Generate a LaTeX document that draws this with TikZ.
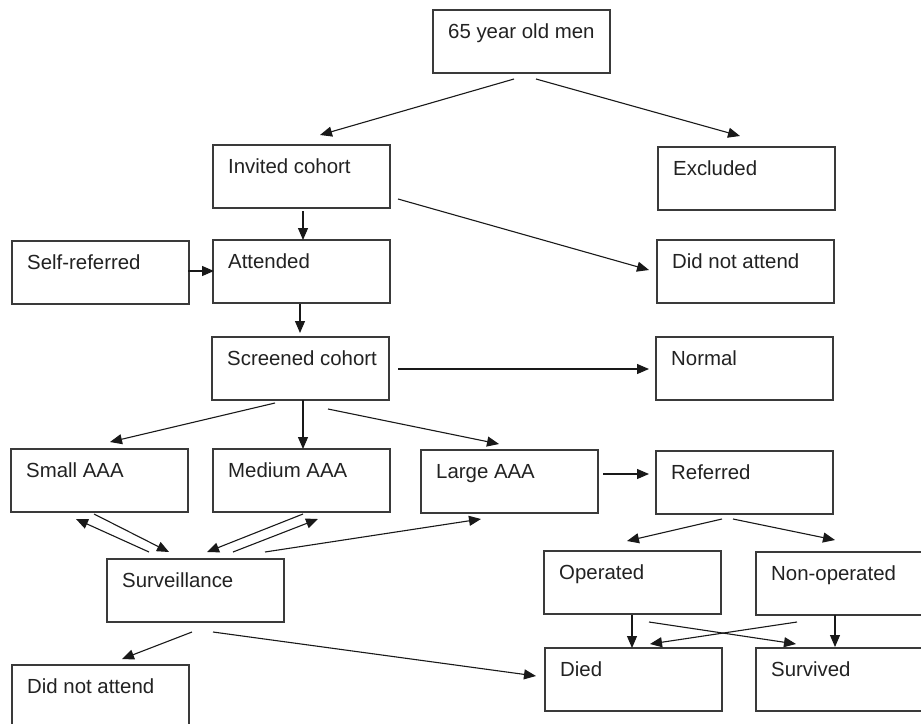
\documentclass[tikz,border=0pt]{standalone}
\usepackage{fontspec}
\setmainfont{Liberation Sans}
\usetikzlibrary{arrows.meta}
\definecolor{boxline}{HTML}{3A3A3A}
\definecolor{txt}{HTML}{222222}
\tikzset{
  bx/.style={draw=boxline, line width=1.2pt, minimum width=177pt, minimum height=63pt, inner sep=0pt, outer sep=0pt, anchor=north west},
  lbl/.style={anchor=base west, inner sep=0pt, text=txt, font=\fontsize{20.4}{24}\selectfont},
  arr/.style={draw=black!90, line width=1.1pt, -{Triangle[length=12pt,width=10pt]}}
}
\newcommand{\mybox}[4]{%
  \node[bx] (#1) at (#2,#3) {};
  \node[lbl] (#1-t) at ([shift={(15,28)}]#1.north west) {#4};}
\begin{document}
\begin{tikzpicture}[x=1pt,y=-1pt]
\useasboundingbox[fill=white] (0,0) rectangle (921,723);
\mybox{men}{433}{10}{65 year old men}
\mybox{inv}{213}{145}{Invited cohort}
\mybox{exc}{658}{147}{Excluded}
\mybox{self}{12}{241}{Self-referred}
\mybox{att}{213}{240}{Attended}
\mybox{dnaA}{657}{240}{Did not attend}
\mybox{scr}{212}{337}{Screened cohort}
\mybox{nor}{656}{337}{Normal}
\mybox{sml}{11}{449}{Small AAA}
\mybox{med}{213}{449}{Medium AAA}
\mybox{lrg}{421}{450}{Large AAA}
\mybox{ref}{656}{451}{Referred}
\mybox{sur}{107}{559}{Surveillance}
\mybox{op}{544}{551}{Operated}
\mybox{nop}{756}{552}{Non-operated}
\mybox{dnaB}{12}{665}{Did not attend}
\mybox{died}{545}{648}{Died}
\mybox{surv}{756}{648}{Survived}
% connectors
\draw[arr] ([shift={(81,69)}]men.north west) -- ([shift={(107,-10)}]inv.north west);
\draw[arr] ([shift={(103,69)}]men.north west) -- ([shift={(82,-11)}]exc.north west);
\draw[arr] ([shift={(90,66)}]inv.north west) -- ([shift={(90,0)}]att.north west);
\draw[arr] ([shift={(185,54)}]inv.north west) -- ([shift={(-8,30)}]dnaA.north west);
\draw[arr] ([shift={(176,30)}]self.north west) -- ([shift={(1,31)}]att.north west);
\draw[arr] ([shift={(87,64)}]att.north west) -- ([shift={(88,-4)}]scr.north west);
\draw[arr] ([shift={(186,32)}]scr.north west) -- ([shift={(-7,32)}]nor.north west);
\draw[arr] ([shift={(63,66)}]scr.north west) -- ([shift={(99,-7)}]sml.north west);
\draw[arr] ([shift={(91,63)}]scr.north west) -- ([shift={(90,0)}]med.north west);
\draw[arr] ([shift={(116,72)}]scr.north west) -- ([shift={(78,-6)}]lrg.north west);
\draw[arr] ([shift={(42,-7)}]sur.north west) -- ([shift={(65,70)}]sml.north west);
\draw[arr] ([shift={(83,65)}]sml.north west) -- ([shift={(62,-7)}]sur.north west);
\draw[arr] ([shift={(90,65)}]med.north west) -- ([shift={(100,-7)}]sur.north west);
\draw[arr] ([shift={(126,-7)}]sur.north west) -- ([shift={(105,70)}]med.north west);
\draw[arr] ([shift={(158,-7)}]sur.north west) -- ([shift={(60,69)}]lrg.north west);
\draw[arr] ([shift={(182,24)}]lrg.north west) -- ([shift={(-7,23)}]ref.north west);
\draw[arr] ([shift={(66,68)}]ref.north west) -- ([shift={(83,-10)}]op.north west);
\draw[arr] ([shift={(77,68)}]ref.north west) -- ([shift={(79,-12)}]nop.north west);
\draw[arr] ([shift={(88,64)}]op.north west) -- ([shift={(87,0)}]died.north west);
\draw[arr] ([shift={(105,71)}]op.north west) -- ([shift={(40,-4)}]surv.north west);
\draw[arr] ([shift={(41,70)}]nop.north west) -- ([shift={(105,-4)}]died.north west);
\draw[arr] ([shift={(79,63)}]nop.north west) -- ([shift={(79,-1)}]surv.north west);
\draw[arr] ([shift={(85,73)}]sur.north west) -- ([shift={(110,-6)}]dnaB.north west);
\draw[arr] ([shift={(106,73)}]sur.north west) -- ([shift={(-9,28)}]died.north west);
\end{tikzpicture}
\end{document}
